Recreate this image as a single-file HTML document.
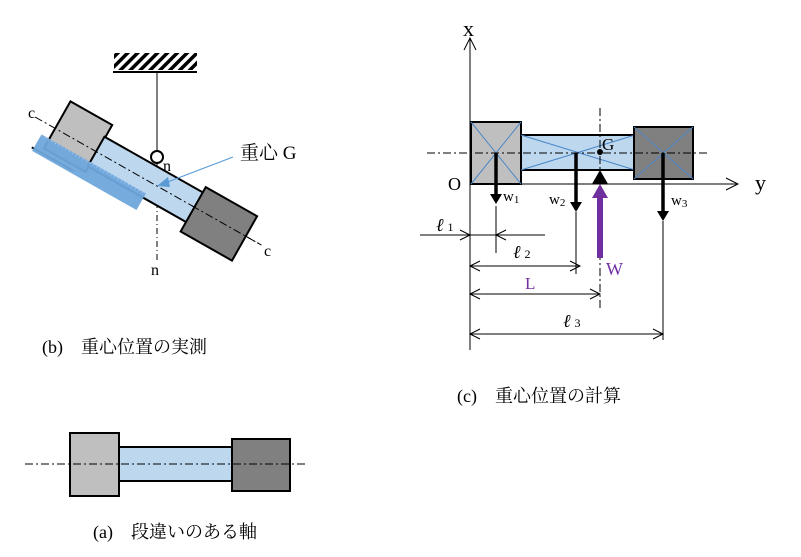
<!DOCTYPE html>
<html><head><meta charset="utf-8"><style>
html,body{margin:0;padding:0;background:#fff;}
svg{display:block;}
text{font-family:"Liberation Serif","Noto Serif CJK SC",serif;}
</style></head><body>
<svg width="801" height="557" viewBox="0 0 801 557" xmlns="http://www.w3.org/2000/svg">
<defs>
<pattern id="h" width="7" height="7" patternUnits="userSpaceOnUse" patternTransform="rotate(45)"><rect width="3.5" height="7" fill="#000"/></pattern>
</defs>
<!-- (b) -->
<rect x="114" y="53" width="83" height="17" fill="url(#h)"/>
<line x1="113" y1="72" x2="197" y2="72" stroke="#000" stroke-width="2"/>
<line x1="157" y1="72" x2="157" y2="151" stroke="#000" stroke-width="1"/>
<line x1="157" y1="163" x2="157" y2="262" stroke="#000" stroke-width="1" stroke-dasharray="6,3,1,3"/>
<g transform="translate(157,186) rotate(29.5)">
  <rect x="-117" y="-31" width="48" height="54" fill="#bfbfbf" stroke="#000" stroke-width="2"/>
  <rect x="-70" y="-17" width="114" height="34" fill="#bdd7ee" stroke="#000" stroke-width="2"/>
  <line x1="-140" y1="0" x2="120" y2="0" stroke="#000" stroke-dasharray="8,3,2,3" stroke-width="1"/>
  <line x1="-128" y1="28" x2="-80" y2="28" stroke="#000" stroke-width="2"/>
  <rect x="-126" y="12" width="120" height="19" fill="#6fa6dc" opacity="0.95"/>
  <line x1="-126" y1="13" x2="-6" y2="13" stroke="#9cc3e8" stroke-width="2" stroke-dasharray="1,3"/>
  <rect x="43" y="-23" width="59" height="51" fill="#808080" stroke="#000" stroke-width="2"/>
  <line x1="40" y1="0" x2="120" y2="0" stroke="#000" stroke-dasharray="8,3,2,3" stroke-width="1"/>
</g>
<circle cx="157" cy="157" r="6" fill="#fff" stroke="#000" stroke-width="2"/>
<text x="163" y="171" font-size="16">n</text>
<text x="151" y="275" font-size="16">n</text>
<text x="28" y="118" font-size="16">c</text>
<text x="264" y="256" font-size="16">c</text>
<line x1="233" y1="157" x2="165" y2="183" stroke="#5b9bd5" stroke-width="1.2"/>
<polygon points="157,186 168,177 170,187" fill="#5b9bd5"/>
<text x="240" y="159" font-size="19">重心 G</text>
<text x="42" y="353" font-size="18">(b)　重心位置の実測</text>
<!-- (a) -->
<rect x="70" y="433" width="49" height="63" fill="#bfbfbf" stroke="#000" stroke-width="2"/>
<rect x="119" y="447" width="113" height="34" fill="#bdd7ee" stroke="#000" stroke-width="2"/>
<rect x="232" y="439" width="58" height="52" fill="#808080" stroke="#000" stroke-width="2"/>
<line x1="25" y1="464" x2="305" y2="464" stroke="#000" stroke-dasharray="8,3,2,3"/>
<text x="93" y="538" font-size="18">(a)　段違いのある軸</text>
<!-- (c) -->
<line x1="470" y1="38" x2="470" y2="350" stroke="#000"/>
<polyline points="464,50 470,38 476,50" fill="none" stroke="#000"/>
<text x="463" y="36" font-size="22">x</text>
<line x1="470" y1="184" x2="738" y2="184" stroke="#000"/>
<polyline points="726,178 738,184 726,190" fill="none" stroke="#000"/>
<text x="755" y="190" font-size="22">y</text>
<text x="448" y="190" font-size="18">O</text>
<rect x="471" y="122" width="50" height="62" fill="#bfbfbf" stroke="#000" stroke-width="2"/>
<path d="M471,122 L521,184 M521,122 L471,184" stroke="#4a86c8" stroke-width="1"/>
<rect x="521" y="135" width="114" height="35" fill="#bdd7ee" stroke="#000" stroke-width="2"/>
<path d="M521,135 L635,170 M635,135 L521,170" stroke="#4a86c8" stroke-width="1"/>
<rect x="634" y="127" width="59" height="52" fill="#808080" stroke="#000" stroke-width="2"/>
<path d="M634,127 L693,179 M693,127 L634,179" stroke="#4a86c8" stroke-width="1"/>
<line x1="427" y1="153" x2="707" y2="153" stroke="#000" stroke-dasharray="8,3,2,3"/>
<line x1="600" y1="108" x2="600" y2="310" stroke="#000" stroke-dasharray="8,3,2,3"/>
<circle cx="600" cy="152" r="3" fill="#000"/>
<text x="602" y="150" font-size="17">G</text>
<line x1="496" y1="153" x2="496" y2="196" stroke="#000" stroke-width="3.5"/>
<polygon points="490,194 502,194 496,204" fill="#000"/>
<line x1="576" y1="153" x2="576" y2="204" stroke="#000" stroke-width="3.5"/>
<polygon points="570,202 582,202 576,212" fill="#000"/>
<line x1="663" y1="153" x2="663" y2="213" stroke="#000" stroke-width="3.5"/>
<polygon points="657,211 669,211 663,221" fill="#000"/>
<text x="503" y="201" font-size="15">w<tspan font-size="11" dy="2">1</tspan></text>
<text x="549" y="204" font-size="15">w<tspan font-size="11" dy="2">2</tspan></text>
<text x="671" y="205" font-size="15">w<tspan font-size="11" dy="2">3</tspan></text>
<line x1="600" y1="258" x2="600" y2="196" stroke="#7030a0" stroke-width="6"/>
<polygon points="592,198 608,198 600,184" fill="#7030a0"/>
<polygon points="592,184 608,184 600,170" fill="#000"/>
<text x="606" y="275" font-size="18" fill="#7030a0">W</text>
<!-- dims -->
<line x1="496" y1="206" x2="496" y2="253" stroke="#000"/>
<line x1="576" y1="212" x2="576" y2="274" stroke="#000"/>
<line x1="663" y1="221" x2="663" y2="340" stroke="#000"/>
<line x1="420" y1="235" x2="545" y2="235" stroke="#000"/>
<polyline points="460,230 470,235 460,240" fill="none" stroke="#000"/>
<polyline points="506,230 496,235 506,240" fill="none" stroke="#000"/>
<text x="436" y="231" font-size="18" font-style="italic">ℓ<tspan font-size="12" font-style="normal" dx="4">1</tspan></text>
<line x1="470" y1="266" x2="580" y2="266" stroke="#000"/>
<polyline points="480,261 470,266 480,271" fill="none" stroke="#000"/>
<polyline points="570,261 580,266 570,271" fill="none" stroke="#000"/>
<text x="513" y="258" font-size="18" font-style="italic">ℓ<tspan font-size="12" font-style="normal" dx="4">2</tspan></text>
<line x1="470" y1="294" x2="600" y2="294" stroke="#000"/>
<polyline points="480,289 470,294 480,299" fill="none" stroke="#000"/>
<polyline points="590,289 600,294 590,299" fill="none" stroke="#000"/>
<text x="525" y="289" font-size="17" fill="#7030a0">L</text>
<line x1="470" y1="334" x2="663" y2="334" stroke="#000"/>
<polyline points="480,329 470,334 480,339" fill="none" stroke="#000"/>
<polyline points="653,329 663,334 653,339" fill="none" stroke="#000"/>
<text x="563" y="327" font-size="18" font-style="italic">ℓ<tspan font-size="12" font-style="normal" dx="4">3</tspan></text>
<text x="457" y="402" font-size="18">(c)　重心位置の計算</text>
</svg>
</body></html>
